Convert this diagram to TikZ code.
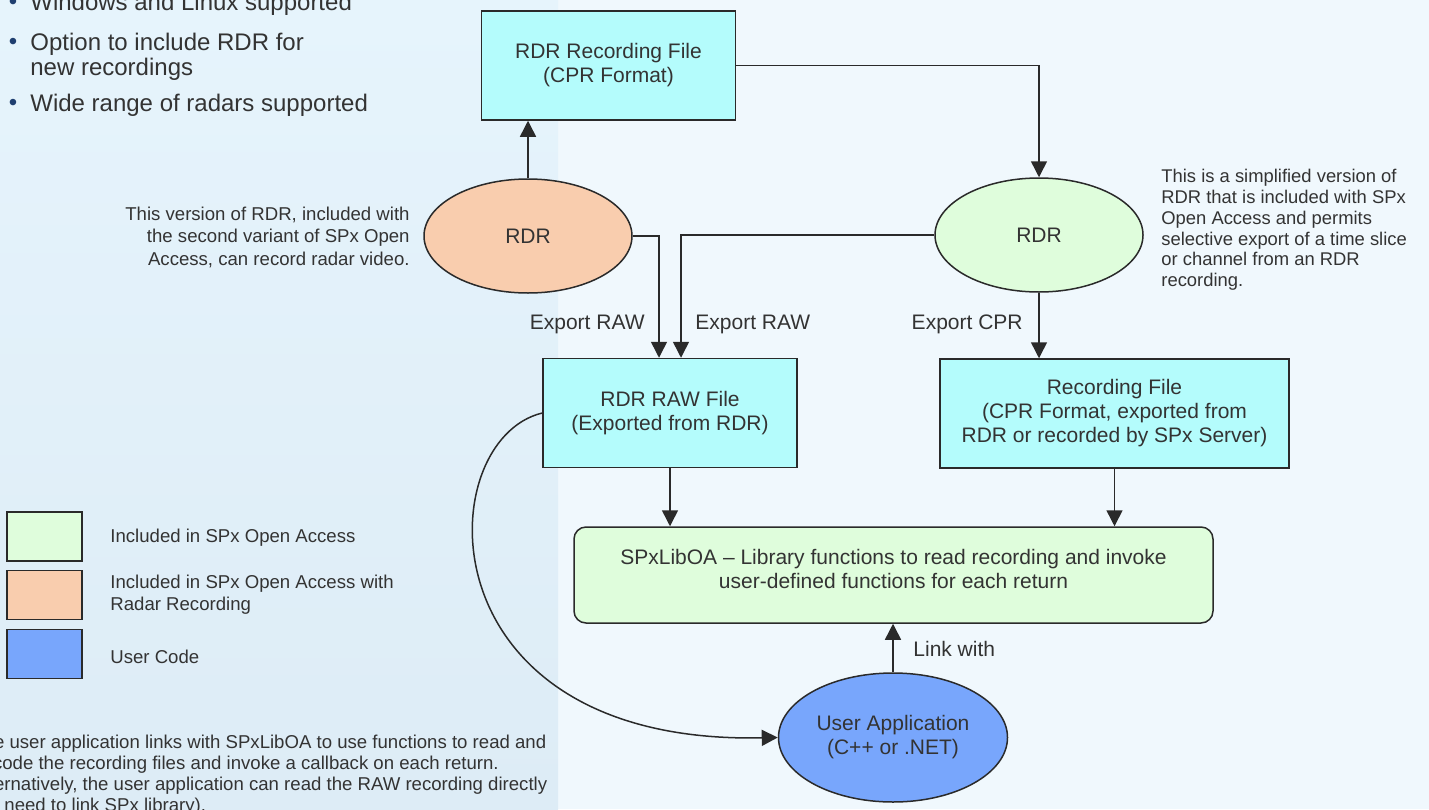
\documentclass[tikz,border=0pt]{standalone}
\usepackage{fontspec}
\setmainfont{Liberation Sans}
\usetikzlibrary{arrows.meta, positioning, shapes.geometric}
\definecolor{ink}{HTML}{333333}
\definecolor{edge}{HTML}{2A2A2A}
\definecolor{dotblue}{HTML}{1F3F70}
\definecolor{filecol}{HTML}{B4FCFC}
\definecolor{oacol}{HTML}{DFFDDC}
\definecolor{radcol}{HTML}{F9CDAE}
\definecolor{usercol}{HTML}{78A6FC}
\definecolor{rightbg}{HTML}{F0F8FD}
\definecolor{lefttop}{HTML}{E6F4FC}
\definecolor{leftbot}{HTML}{DDECF6}

\begin{document}
\begin{tikzpicture}[x=0.5pt, y=-0.5pt, font=\fontsize{10.5}{12}\selectfont,
	filebox/.style = {rectangle, draw=edge, line width=0.75pt, fill=filecol, text=ink,
		align=center, inner sep=0pt, minimum width=#1, minimum height=54.5pt},
	filebox/.default = 127pt,
	progell/.style = {% program ellipse
		ellipse, draw=edge, line width=0.75pt, text=ink, align=center, inner sep=0pt,
		minimum width=104pt, minimum height=57pt},
	libbox/.style = {rectangle, rounded corners=6pt, draw=edge, line width=0.75pt, fill=oacol,
		text=ink, align=center, inner sep=0pt, minimum width=319.5pt, minimum height=48pt},
	keybox/.style = {rectangle, draw=edge, line width=0.75pt, inner sep=0pt,
		minimum width=37.5pt, minimum height=24.5pt},
	note/.style = {text=ink, inner sep=0pt, font=\fontsize{9.3}{11}\selectfont},
	lab/.style = {text=ink, inner sep=0pt},
	item/.style = {text=ink, inner sep=0pt, align=left, font=\fontsize{12}{12.5}\selectfont},
	dot/.style = {text=dotblue, inner sep=0pt, font=\fontsize{12}{12.5}\selectfont},
	link/.style = {draw=edge, line width=0.75pt, -{Triangle[length=8pt, width=8pt]}}]

\clip (0,0) rectangle (1429,809);
% background
\fill[rightbg] (0,0) rectangle (1429,809);
\shade[top color=lefttop, bottom color=leftbot] (0,0) rectangle (558,809);

% bullet list
\node[dot]  (d1) at (13,4)   {•};
\node[item, anchor=west] (i1) at (30,4) {Windows and Linux supported};
\node[dot]  (d2) at (13,44)  {•};
\node[item, anchor=west] (i2) at (30,56.5) {Option to include RDR for\\new recordings};
\node[dot]  (d3) at (13,105) {•};
\node[item, anchor=west] (i3) at (30,105) {Wide range of radars supported};

% files and programs
\node[filebox] (rec) at (608.5,65.5) {RDR Recording File\\(CPR Format)};
\node[progell, fill=radcol] (rdrA) at (528,236) {RDR};
\node[progell, fill=oacol]  (rdrB) at (1039,235) {RDR};
\node[filebox] (raw) at (670,413) {RDR RAW File\\(Exported from RDR)};
\node[filebox=174.5pt] (cpr) at (1114.5,413.5) {Recording File\\(CPR Format, exported from\\RDR or recorded by SPx Server)};
\node[libbox, text depth=6pt] (lib) at (893.5,575) {SPxLibOA -- Library functions to read recording and invoke\\user-defined functions for each return};
\node[progell, fill=usercol, minimum width=114.5pt, minimum height=64.5pt] (user) at (893,737.5) {User Application\\(C++ or .NET)};

% connectors
\draw[link] (rdrA.north) -- (rdrA.north |- rec.south);
\draw[link] (rec.east) -| (rdrB.north);
\draw[link] (rdrA.east) -| ([xshift=-5.5pt]raw.north);
\draw[link] (rdrB.west) -| ([xshift=5.5pt]raw.north);
\draw[link] (rdrB.south) -- (rdrB.south |- cpr.north);
\draw[link] (raw.south) -- (raw.south |- lib.north);
\draw[link] (cpr.south) -- (cpr.south |- lib.north);
\draw[link] (user.north) -- (user.north |- lib.south);
\draw[link] (raw.west) .. controls (430,440) and (420,745) .. (user.west);

% connector labels
\node[lab, anchor=east] (exA) at (645,324) {Export RAW};
\node[lab, anchor=west] (exB) at (695,324) {Export RAW};
\node[lab, anchor=east] (exC) at (1023,324) {Export CPR};
\node[lab, anchor=west] (lnk) at (913,649) {Link with};

% notes
\node[note, anchor=east, align=right, font=\fontsize{9.3}{11.25}\selectfont] (noteA) at (410,237)
	{This version of RDR, included with\\the second variant of SPx Open\\Access, can record radar video.};
\node[note, anchor=west, align=left, font=\fontsize{9.2}{10.4}\selectfont] (noteB) at (1161,230)
	{This is a simplified version of\\RDR that is included with SPx\\Open Access and permits\\selective export of a time slice\\or channel from an RDR\\recording.};
\node[note, anchor=west, align=left, font=\fontsize{9.3}{10.5}\selectfont] (noteC) at (-28,775.5)
	{The user application links with SPxLibOA to use functions to read and\\decode the recording files and invoke a callback on each return.\\Alternatively, the user application can read the RAW recording directly\\(no need to link SPx library).};

% legend
\node[keybox, fill=oacol]   (keyA) at (44.5,536.5) {};
\node[keybox, fill=radcol]  (keyB) at (44.5,595) {};
\node[keybox, fill=usercol] (keyC) at (44.5,654) {};
\node[note, anchor=west] (txtA) at (110,538) {Included in SPx Open Access};
\node[note, anchor=west, align=left] (txtB) at (110,595) {Included in SPx Open Access with\\Radar Recording};
\node[note, anchor=west] (txtC) at (110,657) {User Code};
\end{tikzpicture}
\end{document}
